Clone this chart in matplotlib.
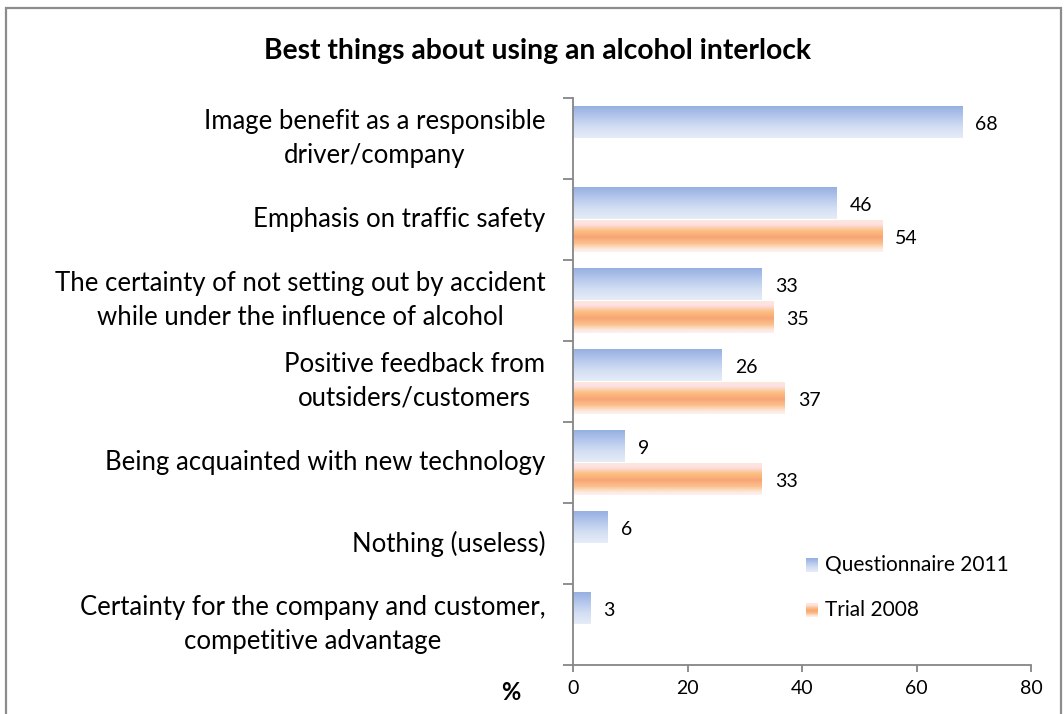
import numpy as np
import matplotlib
matplotlib.use("Agg")
import matplotlib.pyplot as plt
from matplotlib.colors import LinearSegmentedColormap
from matplotlib.patches import Rectangle

# ---- data -------------------------------------------------------------
categories = [
    "Image benefit as a responsible\ndriver/company",
    "Emphasis on traffic safety",
    "The certainty of not setting out by accident\nwhile under the influence of alcohol",
    "Positive feedback from\noutsiders/customers",
    "Being acquainted with new technology",
    "Nothing (useless)",
    "Certainty for the company and customer,\ncompetitive advantage",
]
questionnaire_2011 = [68, 46, 33, 26, 9, 6, 3]
trial_2008 = [None, 54, 35, 37, 33, None, None]
series_names = ["Questionnaire 2011", "Trial 2008"]
x_ticks = [0, 20, 40, 60, 80]
title = "Best things about using an alcohol interlock"

FONT = ["Lato", "DejaVu Sans"]
plt.rcParams["font.family"] = FONT

# vertical gradients, listed top -> bottom
blue_grad = LinearSegmentedColormap.from_list(
    "blue_grad", ["#93AEE0", "#B3C6EC", "#D3DEF3", "#E6ECF8"])
orange_grad = LinearSegmentedColormap.from_list(
    "orange_grad",
    [(0.00, "#FCEAD6"), (0.15, "#FEE0E6"), (0.35, "#FBC080"),
     (0.55, "#F9A475"), (0.75, "#FBC290"), (0.90, "#FDE6D6"),
     (1.00, "#FDF0F3")])


def gradient_img(cmap, n=64):
    g = np.linspace(0, 1, n)
    return cmap(g)[:, None, :]


fig = plt.figure(figsize=(10.64, 7.14), dpi=100)
W, H = 1064, 714
ax = fig.add_axes([573 / W, 1 - 665 / H, (1031 - 573) / W, (665 - 98) / H])

n = len(categories)
pos = np.arange(n)
bar_h = 0.4


def gradient_barh(ypos, values, cmap):
    vals = [0 if v is None else v for v in values]
    bars = ax.barh(ypos, vals, height=bar_h, facecolor="none",
                   edgecolor="none", zorder=2)
    img = gradient_img(cmap)
    for patch, v in zip(bars.patches, values):
        if v is None:
            continue
        x0, y0 = patch.get_x(), patch.get_y()
        w, h = patch.get_width(), patch.get_height()
        im = ax.imshow(img, extent=(x0, x0 + w, y0 + h, y0), origin="upper",
                       aspect="auto", interpolation="bilinear", zorder=2)
        im.set_clip_path(patch)
    return bars


gradient_barh(pos - bar_h / 2, questionnaire_2011, blue_grad)
gradient_barh(pos + bar_h / 2, trial_2008, orange_grad)
ax.set_xlim(0, 80)
ax.set_ylim(n - 0.5, -0.5)

# value labels
for i, v in enumerate(questionnaire_2011):
    ax.text(v + 2.3, i - bar_h / 2 + 0.03, str(v), va="center", ha="left",
            fontsize=14, color="black")
for i, v in enumerate(trial_2008):
    if v is not None:
        ax.text(v + 2.3, i + bar_h / 2 + 0.03, str(v), va="center", ha="left",
                fontsize=14, color="black")

# axes styling
axis_grey = "#868686"
for s in ("top", "right"):
    ax.spines[s].set_visible(False)
for s in ("left", "bottom"):
    ax.spines[s].set_color(axis_grey)
    ax.spines[s].set_linewidth(1.3)

ax.set_xticks(x_ticks)
ax.set_xticklabels([str(t) for t in x_ticks], fontsize=14)
ax.tick_params(axis="x", length=5, width=1.3, color=axis_grey, pad=6)

ax.set_yticks(np.arange(-0.5, n, 1))
ax.set_yticklabels([])
ax.tick_params(axis="y", which="major", length=7, width=1.3, color=axis_grey)
ax.set_yticks(pos, minor=True)
ax.set_yticklabels(categories, minor=True, fontsize=18.5)
ax.tick_params(axis="y", which="minor", length=0, pad=20)
for t in ax.get_yticklabels(minor=True):
    t.set_multialignment("center")
    t.set_linespacing(1.42)
    t.set_verticalalignment("center")

# title and axis unit
fig.text(537 / W, 1 - 51 / H, title, ha="center", va="center",
         fontsize=20.3, fontweight="bold")
fig.text(511 / W, 1 - 693 / H, "%", ha="center", va="center",
         fontsize=17, fontweight="bold")

# legend with gradient swatches
for name, cmap, yc in [(series_names[0], blue_grad, 565),
                       (series_names[1], orange_grad, 610)]:
    sw = fig.add_axes([806 / W, 1 - (yc + 7) / H, 12 / W, 14 / H])
    sw.imshow(gradient_img(cmap), aspect="auto", interpolation="bilinear")
    sw.axis("off")
    fig.text(825 / W, 1 - yc / H, name, ha="left", va="center", fontsize=15)

# outer frame
fig.add_artist(Rectangle((6 / W, -0.05), (1061 - 6) / W, 1.05 - 8 / H,
                         transform=fig.transFigure, fill=False,
                         edgecolor="#8C8C8C", linewidth=1.6))

fig.savefig("out.png", dpi=100)
